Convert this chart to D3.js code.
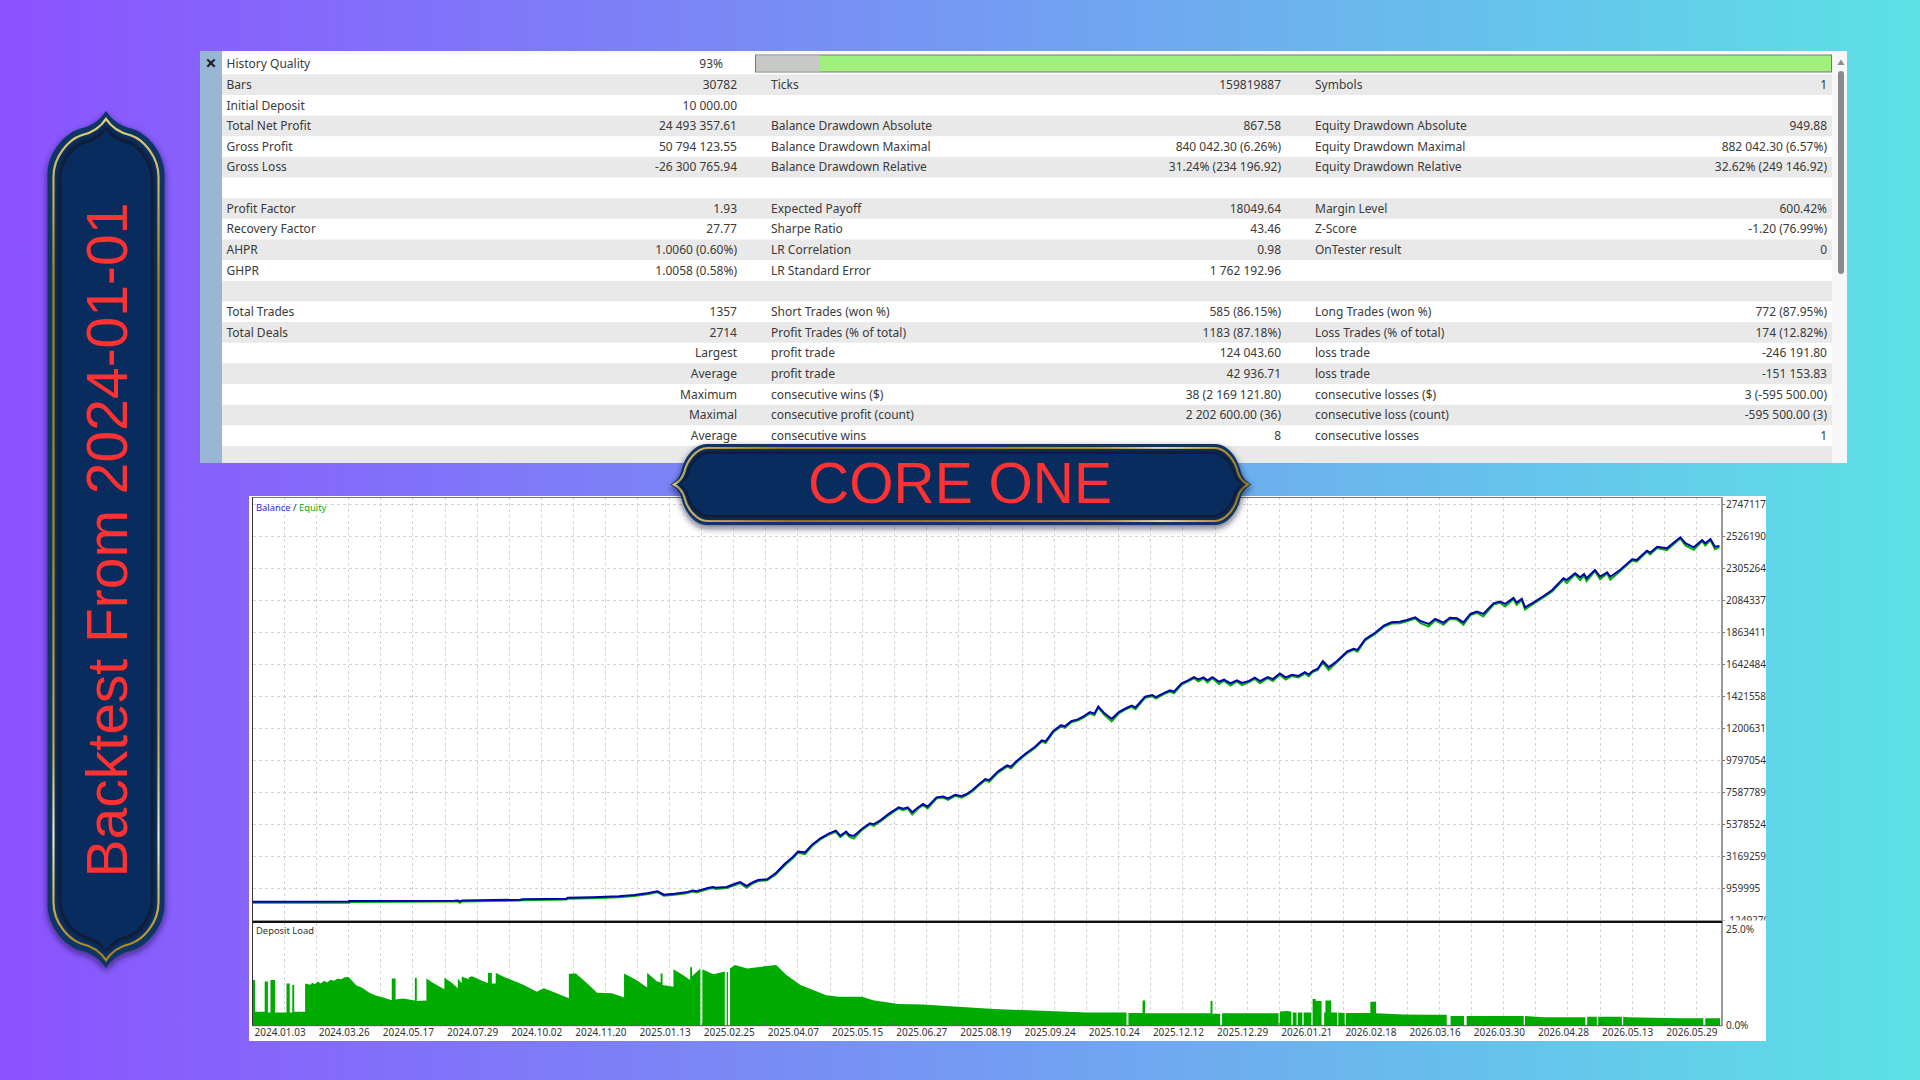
<!DOCTYPE html>
<html>
<head>
<meta charset="utf-8">
<title>Core One backtest</title>
<script src="https://cdn.jsdelivr.net/npm/d3@7"></script>
<style>
    html, body { margin: 0; padding: 0; overflow: hidden; }
    svg { display: block; }
</style>
</head>
<body>
<div id="wrapper"></div>
<script>
// report table, one array per column, "" = empty cell
const col1Labels = ["History Quality", "Bars", "Initial Deposit", "Total Net Profit", "Gross Profit", "Gross Loss", "",
    "Profit Factor", "Recovery Factor", "AHPR", "GHPR", "", "Total Trades", "Total Deals", "", "", "", "", ""]
const col1Values = ["93%", "30782", "10 000.00", "24 493 357.61", "50 794 123.55", "-26 300 765.94", "",
    "1.93", "27.77", "1.0060 (0.60%)", "1.0058 (0.58%)", "", "1357", "2714", "Largest", "Average", "Maximum", "Maximal", "Average"]
const col2Labels = ["", "Ticks", "", "Balance Drawdown Absolute", "Balance Drawdown Maximal", "Balance Drawdown Relative", "",
    "Expected Payoff", "Sharpe Ratio", "LR Correlation", "LR Standard Error", "", "Short Trades (won %)", "Profit Trades (% of total)",
    "profit trade", "profit trade", "consecutive wins ($)", "consecutive profit (count)", "consecutive wins"]
const col2Values = ["", "159819887", "", "867.58", "840 042.30 (6.26%)", "31.24% (234 196.92)", "",
    "18049.64", "43.46", "0.98", "1 762 192.96", "", "585 (86.15%)", "1183 (87.18%)", "124 043.60", "42 936.71",
    "38 (2 169 121.80)", "2 202 600.00 (36)", "8"]
const col3Labels = ["", "Symbols", "", "Equity Drawdown Absolute", "Equity Drawdown Maximal", "Equity Drawdown Relative", "",
    "Margin Level", "Z-Score", "OnTester result", "", "", "Long Trades (won %)", "Loss Trades (% of total)",
    "loss trade", "loss trade", "consecutive losses ($)", "consecutive loss (count)", "consecutive losses"]
const col3Values = ["", "1", "", "949.88", "882 042.30 (6.57%)", "32.62% (249 146.92)", "",
    "600.42%", "-1.20 (76.99%)", "0", "", "", "772 (87.95%)", "174 (12.82%)", "-246 191.80", "-151 153.83",
    "3 (-595 500.00)", "-595 500.00 (3)", "1"]
const historyQuality = 93

// axis of the chart. x positions are counted in date labels (the tester spaces them evenly)
const dateLabels = ["2024.01.03", "2024.03.26", "2024.05.17", "2024.07.29", "2024.10.02", "2024.11.20", "2025.01.13", "2025.02.25",
    "2025.04.07", "2025.05.15", "2025.06.27", "2025.08.19", "2025.09.24", "2025.10.24", "2025.12.12", "2025.12.29",
    "2026.01.21", "2026.02.18", "2026.03.16", "2026.03.30", "2026.04.28", "2026.05.13", "2026.05.29"]
const yTickLabels = ["2747117", "2526190", "2305264", "2084337", "1863411", "1642484", "1421558", "1200631",
    "9797054", "7587789", "5378524", "3169259", "959995", "-1249270"]
// millions
const yTickValues = [27.47117, 25.2619, 23.05264, 20.84337, 18.63411, 16.42484, 14.21558, 12.00631,
    9.797054, 7.587789, 5.378524, 3.169259, 0.959995, -1.24927]

// [position, millions]
const balancePoints = [[0,.01],[1.51,.02],[1.51,.06],[3.14,.08],[3.20,.09],[3.23,.03],[3.27,.10],[4.18,.15],[4.20,.18],[4.89,.22],
    [4.91,.28],[5.30,.32],[5.71,.39],[5.95,.48],[6.15,.60],[6.31,.73],[6.41,.50],[6.58,.56],[6.76,.66],[6.86,.78],
    [6.92,.74],[7.11,.98],[7.18,1.02],[7.22,.98],[7.39,1.03],[7.52,1.25],[7.60,1.37],[7.70,1.10],[7.80,1.36],[7.88,1.51],
    [8.02,1.56],[8.15,1.97],[8.30,2.65],[8.42,3.10],[8.50,3.47],[8.61,3.42],[8.72,3.95],[8.85,4.39],[8.98,4.72],[9.09,4.92],
    [9.16,4.57],[9.25,4.85],[9.30,4.62],[9.37,4.55],[9.50,5.05],[9.62,5.43],[9.68,5.36],[9.79,5.65],[9.92,6.10],[10.07,6.53],
    [10.14,6.44],[10.21,6.53],[10.28,6.19],[10.38,6.55],[10.45,6.76],[10.52,6.57],[10.66,7.22],[10.76,7.28],[10.84,7.14],[10.95,7.40],
    [11.05,7.30],[11.14,7.48],[11.22,7.72],[11.33,8.16],[11.42,8.48],[11.48,8.40],[11.62,9.01],[11.76,9.42],[11.82,9.34],[11.90,9.69],
    [12.05,10.25],[12.19,10.69],[12.30,11.15],[12.36,11.08],[12.48,11.80],[12.60,12.20],[12.66,12.12],[12.76,12.48],[12.86,12.60],[12.95,12.81],
    [13.05,13.10],[13.12,13.00],[13.18,13.49],[13.28,13.00],[13.39,12.64],[13.50,13.10],[13.62,13.40],[13.70,13.55],[13.76,13.42],[13.91,14.17],
    [14.02,14.28],[14.08,14.14],[14.20,14.42],[14.30,14.60],[14.36,14.52],[14.48,15.09],[14.58,15.30],[14.67,15.52],[14.74,15.36],[14.82,15.50],
    [14.88,15.30],[14.96,15.52],[15.06,15.20],[15.14,15.34],[15.24,15.09],[15.34,15.30],[15.42,15.12],[15.53,15.26],[15.62,15.48],[15.70,15.24],
    [15.82,15.52],[15.90,15.38],[16.01,15.77],[16.10,15.50],[16.20,15.68],[16.30,15.60],[16.40,15.86],[16.46,15.70],[16.52,15.94],[16.60,16.10],
    [16.68,16.62],[16.77,16.20],[16.88,16.55],[17.06,17.29],[17.16,17.48],[17.22,17.40],[17.34,18.14],[17.50,18.60],[17.63,19.07],[17.75,19.30],
    [17.88,19.34],[17.99,19.46],[18.12,19.65],[18.20,19.39],[18.33,19.19],[18.43,19.53],[18.56,19.28],[18.66,19.62],[18.77,19.58],[18.87,19.30],
    [18.98,19.88],[19.08,20.04],[19.18,19.88],[19.34,20.61],[19.44,20.73],[19.52,20.57],[19.65,20.98],[19.70,20.66],[19.78,20.93],[19.83,20.34],
    [19.96,20.66],[20.12,21.12],[20.25,21.52],[20.43,22.34],[20.48,22.22],[20.61,22.69],[20.69,22.41],[20.75,22.64],[20.79,22.34],[20.92,22.91],
    [21.00,22.45],[21.11,22.75],[21.16,22.45],[21.31,22.91],[21.50,23.65],[21.57,23.60],[21.73,24.25],[21.78,24.11],[21.89,24.52],[22.04,24.41],
    [22.25,25.17],[22.33,24.76],[22.46,24.48],[22.59,24.98],[22.64,24.76],[22.72,25.06],[22.79,24.52],[22.86,24.57]]

const equityPoints = [[0,-.06],[1.51,-.05],[1.51,-.01],[3.14,.02],[3.20,.03],[3.23,-.07],[3.27,.03],[4.18,.09],[4.20,.11],[4.89,.16],
    [4.91,.21],[5.30,.25],[5.71,.32],[5.95,.41],[6.15,.53],[6.31,.67],[6.41,.42],[6.58,.49],[6.76,.59],[6.86,.71],
    [6.92,.65],[7.11,.91],[7.18,.95],[7.22,.89],[7.39,.96],[7.52,1.17],[7.60,1.30],[7.70,.97],[7.80,1.29],[7.88,1.44],
    [8.02,1.49],[8.15,1.87],[8.30,2.55],[8.42,3.01],[8.50,3.39],[8.61,3.29],[8.72,3.86],[8.85,4.31],[8.98,4.64],[9.09,4.84],
    [9.16,4.47],[9.25,4.77],[9.30,4.51],[9.37,4.37],[9.50,4.97],[9.62,5.35],[9.68,5.25],[9.79,5.57],[9.92,6.01],[10.07,6.45],
    [10.14,6.33],[10.21,6.45],[10.28,6.04],[10.38,6.47],[10.45,6.68],[10.52,6.45],[10.66,7.14],[10.76,7.20],[10.84,7.04],[10.95,7.32],
    [11.05,7.19],[11.14,7.40],[11.22,7.64],[11.33,8.08],[11.42,8.40],[11.48,8.29],[11.62,8.93],[11.76,9.34],[11.82,9.23],[11.90,9.61],
    [12.05,10.17],[12.19,10.61],[12.30,11.07],[12.36,10.97],[12.48,11.72],[12.60,12.12],[12.66,12.01],[12.76,12.40],[12.86,12.52],[12.95,12.73],
    [13.05,13.02],[13.12,12.89],[13.18,13.41],[13.28,12.89],[13.39,12.47],[13.50,13.02],[13.62,13.32],[13.70,13.47],[13.76,13.31],[13.91,14.09],
    [14.02,14.20],[14.08,14.03],[14.20,14.34],[14.30,14.52],[14.36,14.41],[14.48,15.01],[14.58,15.22],[14.67,15.44],[14.74,15.23],[14.82,15.42],
    [14.88,15.15],[14.96,15.44],[15.06,15.05],[15.14,15.26],[15.24,14.94],[15.34,15.22],[15.42,14.97],[15.53,15.18],[15.62,15.40],[15.70,15.09],
    [15.82,15.44],[15.90,15.25],[16.01,15.69],[16.10,15.35],[16.20,15.60],[16.30,15.49],[16.40,15.78],[16.46,15.57],[16.52,15.86],[16.60,16.02],
    [16.68,16.54],[16.77,16.01],[16.88,16.47],[17.06,17.21],[17.16,17.40],[17.22,17.27],[17.34,18.06],[17.50,18.52],[17.63,18.99],[17.75,19.22],
    [17.88,19.23],[17.99,19.38],[18.12,19.57],[18.20,19.24],[18.33,19.01],[18.43,19.45],[18.56,19.13],[18.66,19.54],[18.77,19.50],[18.87,19.13],
    [18.98,19.80],[19.08,19.96],[19.18,19.71],[19.34,20.53],[19.44,20.65],[19.52,20.39],[19.65,20.90],[19.70,20.51],[19.78,20.85],[19.83,20.19],
    [19.96,20.58],[20.12,21.04],[20.25,21.41],[20.43,22.26],[20.48,22.01],[20.61,22.61],[20.69,22.21],[20.75,22.56],[20.79,22.14],[20.92,22.83],
    [21.00,22.27],[21.11,22.67],[21.16,22.24],[21.31,22.83],[21.50,23.57],[21.57,23.49],[21.73,24.17],[21.78,23.99],[21.89,24.44],[22.04,24.29],
    [22.25,25.09],[22.33,24.61],[22.46,24.31],[22.59,24.90],[22.64,24.61],[22.72,24.98],[22.79,24.35],[22.86,24.49]]

// deposit load [position, %], repeated positions are the vertical jumps and the thin white gaps
const loadSteps = [[0,0],[0,11.8],[.04,11.8],[.04,3.6],[.19,3.6],[.19,11.4],[.24,11.4],[.24,3.4],[.28,3.4],[.28,11.8],
    [.35,11.8],[.35,3.4],[.53,3.4],[.53,10.9],[.58,10.9],[.58,3.4],[.62,3.4],[.62,10.5],[.65,10.5],[.65,3.6],[.82,3.6],[.82,10.9],
    [.90,10.6],[.93,11.1],[.97,10.7],[1.02,11.4],[1.06,10.9],[1.12,11.6],[1.16,11.2],[1.22,11.9],[1.27,11.6],[1.33,12.2],[1.38,12.0],[1.44,12.5],[1.50,12.6],
    [1.56,11.4],[1.62,10.4],[1.70,9.9],[1.76,9.2],[1.82,8.5],[1.92,7.8],[2.05,7.2],[2.17,6.6],[2.17,12.2],[2.23,12.2],[2.23,6.8],
    [2.35,7.0],[2.53,6.5],[2.53,12.4],[2.56,12.4],[2.56,6.4],[2.71,6.5],[2.71,12.2],[2.79,11.3],[2.87,10.5],[2.99,9.4],[2.99,12.4],
    [3.10,11.2],[3.20,9.7],[3.20,12.2],[3.26,11.0],[3.26,12.7],[3.37,12.0],[3.37,12.5],[3.42,12.8],[3.55,11.8],[3.67,11.0],[3.67,13.7],
    [3.73,13.6],[3.73,10.9],[3.79,10.9],[3.79,13.7],[3.92,12.6],[4.04,11.8],[4.22,10.6],[4.43,8.8],[4.54,9.7],[4.75,8.3],[4.93,7.1],[4.93,13.4],
    [5.04,13.5],[5.20,11.2],[5.37,8.5],[5.60,8.4],[5.79,7.3],[5.79,13.5],[5.98,11.8],[6.15,9.9],[6.15,13.7],[6.30,11.5],[6.36,11.2],[6.36,13.5],
    [6.39,13.5],[6.39,10.5],[6.56,10.1],[6.56,14.6],[6.70,13.2],[6.82,11.8],[6.82,15.1],[6.85,15.1],[6.85,12.8],[6.98,14.8],[6.98,0],[7.01,0],
    [7.01,14.6],[7.18,13.3],[7.36,14.0],[7.36,0],[7.39,0],[7.39,13.9],[7.41,13.9],[7.41,0],[7.44,0],[7.44,14.8],[7.52,15.7],[7.71,14.8],
    [7.90,15.2],[8.16,15.7],[8.32,13.1],[8.54,10.5],[8.61,10.1],[8.94,7.9],[9.14,7.5],[9.50,7.5],[9.67,6.6],[10.06,5.6],[10.45,5.5],
    [11.00,4.9],[11.56,4.3],[12.40,3.8],[13.01,3.4],[13.62,3.4],[13.62,0],[13.65,0],[13.65,3.3],[13.87,3.3],[13.87,6.5],[13.91,6.5],[13.91,3.2],
    [14.93,3.2],[14.93,6.4],[14.96,6.4],[14.96,3.1],[15.08,3.1],[15.08,0],[15.11,0],[15.11,3.2],[15.99,3.2],[15.99,0],[16.01,0],[16.01,3.7],
    [16.13,3.8],[16.19,3.6],[16.19,0],[16.21,0],[16.21,3.4],[16.27,3.4],[16.27,0],[16.29,0],[16.29,3.4],[16.36,3.4],[16.36,0],[16.38,0],
    [16.38,3.4],[16.50,3.4],[16.50,0],[16.52,0],[16.52,6.9],[16.57,6.9],[16.57,6.4],[16.66,6.4],[16.66,0],[16.70,0],[16.70,3.4],[16.72,3.4],
    [16.72,6.5],[16.81,6.5],[16.81,3.4],[16.90,3.4],[16.90,0],[16.92,0],[16.92,3.4],[17.02,3.3],[17.02,0],[17.04,0],[17.04,3.3],[17.42,3.3],
    [17.42,6.2],[17.51,6.2],[17.51,3.2],[17.94,2.9],[18.41,2.8],[18.61,2.8],[18.61,0],[18.67,0],[18.67,2.5],[18.88,2.5],[18.88,0],[18.92,0],
    [18.92,2.5],[19.81,2.5],[19.81,0],[19.83,0],[19.83,2.5],[20.12,2.2],[20.77,2.2],[20.77,0],[20.80,0],[20.80,2.3],[20.95,2.3],[20.95,0],
    [20.97,0],[20.97,2.3],[21.34,2.3],[21.34,0],[21.36,0],[21.36,2.3],[21.42,2.2],[22.25,1.9],[22.61,1.9],[22.61,0],[22.64,0],[22.64,1.9],[22.87,1.9],[22.87,0]]

function drawChart() {
    const width = 1920
    const height = 1080
    const sans = "'Noto Sans', sans-serif"
    const tableColor = "#3a3a3a"

    const wrapper = d3.select("#wrapper")
        .append("svg")
        .attr("width", width)
        .attr("height", height)
    const defs = wrapper.append("defs")

    const bg = defs.append("linearGradient").attr("id", "bg")
    bg.append("stop").attr("offset", "0%").attr("stop-color", "#8c52ff")
    bg.append("stop").attr("offset", "100%").attr("stop-color", "#5ce1e6")
    wrapper.append("rect")
        .attr("width", width)
        .attr("height", height)
        .attr("fill", "url(#bg)")

    //report panel
    const table = {left: 200, top: 51, right: 1847, bottom: 463, stripe: 222, rowTop: 53.7, rowH: 20.65}
    const panel = wrapper.append("g").attr("font-family", sans).attr("font-size", "12px").attr("fill", tableColor)
    panel.append("rect")
        .attr("x", table.left)
        .attr("y", table.top)
        .attr("width", table.right - table.left)
        .attr("height", table.bottom - table.top)
        .attr("fill", "#f7f7f7")
    panel.selectAll(".row")
        .data(d3.range(20))
        .enter()
        .append("rect")
        .attr("x", table.stripe)
        .attr("y", d => table.rowTop + d * table.rowH)
        .attr("width", 1832 - table.stripe)
        .attr("height", d => d === 19 ? table.bottom - (table.rowTop + d * table.rowH) : table.rowH)
        .attr("fill", d => d % 2 ? "#e9e9e9" : "#ffffff")
    panel.append("rect")
        .attr("x", table.left)
        .attr("y", table.top)
        .attr("width", table.stripe - table.left)
        .attr("height", table.bottom - table.top)
        .attr("fill", "#9ab6d5")
    panel.append("text")
        .attr("x", 211)
        .attr("y", 69.5)
        .attr("text-anchor", "middle")
        .attr("font-size", "20px")
        .attr("font-weight", 700)
        .attr("fill", "#222")
        .text("×")

    const columns = [
        {values: col1Labels, x: 226.5, anchor: "start"},
        {values: col1Values, x: 737, anchor: "end"},
        {values: col2Labels, x: 771, anchor: "start"},
        {values: col2Values, x: 1281, anchor: "end"},
        {values: col3Labels, x: 1315, anchor: "start"},
        {values: col3Values, x: 1827, anchor: "end"},
    ]
    columns.forEach(col => {
        panel.append("g")
            .attr("text-anchor", col.anchor)
            .selectAll("text")
            .data(col.values)
            .enter()
            .append("text")
            .attr("x", (d, i) => (i === 0 && col.anchor === "end") ? col.x - 14 : col.x)
            .attr("y", (d, i) => 64 + i * table.rowH)
            .attr("dy", ".35em")
            .text(d => d)
    })

    //history quality bar
    const qualityX = d3.scaleLinear().domain([100, 0]).range([755.5, 1831.5])
    panel.append("rect")
        .attr("x", qualityX(100))
        .attr("y", 55)
        .attr("width", qualityX(0) - qualityX(100))
        .attr("height", 17)
        .attr("fill", "#9ff07c")
        .attr("stroke", "#777")
    panel.append("rect")
        .attr("x", qualityX(100) + .5)
        .attr("y", 55.5)
        .attr("width", (qualityX(0) - qualityX(100)) * (100 - historyQuality) / 100 * .85)
        .attr("height", 16)
        .attr("fill", "#c8c8c8")

    //scrollbar
    panel.append("path")
        .attr("d", "M1837.5 65 L1841 59.5 L1844.5 65 Z")
        .attr("fill", "#8a8a8a")
    panel.append("rect")
        .attr("x", 1838)
        .attr("y", 71)
        .attr("width", 6)
        .attr("height", 203)
        .attr("rx", 3)
        .attr("fill", "#8a8a8a")

    //chart
    const chart = {left: 249, top: 496, right: 1766, bottom: 1041, plotLeft: 252.5, plotRight: 1722, plotTop: 497, paneBottom: 920, loadTop: 923, loadBottom: 1025.7}
    const tester = wrapper.append("g").attr("font-family", sans).attr("font-size", "10px")
    tester.append("rect")
        .attr("x", chart.left)
        .attr("y", chart.top)
        .attr("width", chart.right - chart.left)
        .attr("height", chart.bottom - chart.top)
        .attr("fill", "#fff")

    const xScaler = d3.scaleLinear().domain([0, 22.9]).range([chart.plotLeft, chart.plotRight])
    const yScaler = d3.scaleLinear().domain([-1.24927, 27.47117]).range([920, 504])
    const loadScaler = d3.scaleLinear().domain([0, 25]).range([chart.loadBottom, 929])

    const grid = tester.append("g")
        .attr("stroke", "#d4d4d4")
        .attr("stroke-dasharray", "3 3")
        .attr("shape-rendering", "crispEdges")
    grid.selectAll(".v")
        .data(d3.range(0.5, 22.9, 0.5))
        .enter()
        .append("line")
        .attr("x1", d => xScaler(d))
        .attr("x2", d => xScaler(d))
        .attr("y1", chart.plotTop)
        .attr("y2", chart.loadBottom)
    grid.selectAll(".h")
        .data(yTickValues.slice(0, -1))
        .enter()
        .append("line")
        .attr("x1", chart.plotLeft)
        .attr("x2", chart.plotRight)
        .attr("y1", d => yScaler(d))
        .attr("y2", d => yScaler(d))

    const lineGen = d3.line()
        .x(d => xScaler(d[0]))
        .y(d => yScaler(d[1]))
    tester.append("path")
        .attr("d", lineGen(equityPoints))
        .attr("fill", "none")
        .attr("stroke", "#00b000")
        .attr("stroke-width", 2)
    tester.append("path")
        .attr("d", lineGen(balancePoints))
        .attr("fill", "none")
        .attr("stroke", "#0000b0")
        .attr("stroke-width", 2)

    const areaGen = d3.area()
        .x(d => xScaler(d[0]))
        .y0(loadScaler(0))
        .y1(d => loadScaler(d[1]))
    tester.append("path")
        .attr("d", areaGen(loadSteps))
        .attr("fill", "#00ab00")

    //frame of the panes
    const frame = tester.append("g").attr("shape-rendering", "crispEdges")
    frame.append("line").attr("x1", chart.plotLeft).attr("x2", chart.plotRight).attr("y1", chart.plotTop).attr("y2", chart.plotTop).attr("stroke", "#777")
    frame.append("line").attr("x1", chart.plotLeft).attr("x2", chart.plotLeft).attr("y1", chart.plotTop).attr("y2", chart.loadBottom).attr("stroke", "#333")
    frame.append("line").attr("x1", chart.plotRight).attr("x2", chart.plotRight).attr("y1", chart.plotTop).attr("y2", chart.loadBottom).attr("stroke", "#999").attr("stroke-width", 2)
    frame.append("line").attr("x1", chart.plotLeft).attr("x2", chart.plotRight).attr("y1", 920.5).attr("y2", 920.5).attr("stroke", "#999").attr("stroke-width", 1)
    frame.append("line").attr("x1", chart.plotLeft).attr("x2", chart.plotRight).attr("y1", 922).attr("y2", 922).attr("stroke", "#111").attr("stroke-width", 1.5)

    //axes, labels of the price axis get cut by the chart edge like in the tester
    defs.append("clipPath").attr("id", "priceClip")
        .append("rect")
        .attr("x", chart.plotRight)
        .attr("y", chart.top)
        .attr("width", chart.right - chart.plotRight)
        .attr("height", 424.5)

    const yAxisGen = d3.axisRight(yScaler)
        .tickValues(yTickValues)
        .tickFormat((d, i) => yTickLabels[i])
        .tickSize(3)
        .tickPadding(1)
    const yAxis = tester.append("g")
        .attr("clip-path", "url(#priceClip)")
        .append("g")
        .attr("transform", `translate(${chart.plotRight},0)`)
        .call(yAxisGen)
    yAxis.select(".domain").remove()
    yAxis.selectAll("line").attr("stroke", "#777")
    yAxis.selectAll("text")
        .attr("font-family", sans)
        .attr("font-size", "10px")
        .attr("fill", "#333")

    const loadAxisGen = d3.axisRight(loadScaler)
        .tickValues([0, 25])
        .tickFormat(d => d.toFixed(1) + "%")
        .tickSize(0)
        .tickPadding(4)
    const loadAxis = tester.append("g")
        .attr("transform", `translate(${chart.plotRight},0)`)
        .call(loadAxisGen)
    loadAxis.select(".domain").remove()
    loadAxis.selectAll("text")
        .attr("font-family", sans)
        .attr("font-size", "10px")
        .attr("fill", "#333")

    const xAxisGen = d3.axisBottom(xScaler)
        .tickValues(d3.range(dateLabels.length))
        .tickFormat(i => dateLabels[i])
        .tickSize(3)
    const xAxis = tester.append("g")
        .attr("transform", `translate(0,${chart.loadBottom})`)
        .call(xAxisGen)
    xAxis.select(".domain")
        .attr("stroke", "#555")
        .attr("d", `M${chart.plotLeft},0H${chart.plotRight}`)
    xAxis.selectAll("line").attr("stroke", "#555").attr("y2", -3)
    xAxis.selectAll("text")
        .attr("font-family", sans)
        .attr("font-size", "10px")
        .attr("fill", "#333")
        .attr("text-anchor", "start")
        .attr("x", 1.5)
        .attr("y", 3.5)

    const legend = tester.append("text").attr("x", 256).attr("y", 510.5).attr("font-size", "9.4px")
    legend.append("tspan").attr("fill", "#2a2ad0").text("Balance")
    legend.append("tspan").attr("fill", "#333").text(" / ")
    legend.append("tspan").attr("fill", "#00b000").text("Equity")
    tester.append("text")
        .attr("x", 256)
        .attr("y", 934)
        .attr("font-size", "9.4px")
        .attr("fill", "#333")
        .text("Deposit Load")

    //the two gold framed plates
    const shadow = defs.append("filter").attr("id", "plateShadow")
        .attr("x", "-10%").attr("y", "-10%").attr("width", "120%").attr("height", "125%")
    shadow.append("feDropShadow")
        .attr("dx", 0).attr("dy", 3).attr("stdDeviation", 3.5)
        .attr("flood-color", "#101030").attr("flood-opacity", .65)
    const soft = defs.append("filter").attr("id", "plateSoft")
    soft.append("feGaussianBlur").attr("stdDeviation", 2.5)

    const goldH = defs.append("linearGradient").attr("id", "goldH")
    const goldV = defs.append("linearGradient").attr("id", "goldV").attr("x1", 0).attr("x2", 0).attr("y1", 0).attr("y2", 1)
    const goldStops = [[0, "#e8d27a"], [.2, "#a98414"], [.5, "#b08a1a"], [.75, "#c9a94a"], [.85, "#f4ecc8"], [.95, "#c9a33a"], [1, "#a98414"]]
    ;[goldH, goldV].forEach(g => goldStops.forEach(s => g.append("stop").attr("offset", s[0]).attr("stop-color", s[1])))

    function platePath(p, inset, toXY) {
        const len = p.len, t = inset * p.tipK
        const b = p.b - inset, mu = p.mu + t * .8, mv = Math.max(p.mv - inset * .4, 4), su = p.su + inset * .3
        const path = d3.path()
        const curve = (c1, c2, e) => path.bezierCurveTo(...toXY(c1[0], c1[1]), ...toXY(c2[0], c2[1]), ...toXY(e[0], e[1]))
        path.moveTo(...toXY(t, 0))
        ;[1, -1].forEach(side => {
            // going one way along the upper edge, then back along the lower one
            const U = side === 1 ? (u => u) : (u => len - u)
            const V = v => side * v
            curve([U(t + (mu - t) * .65), V(mv * .28)], [U(t + (mu - t) * .88), V(mv * .65)], [U(mu), V(mv)])
            curve([U(mu + (su - mu) * .1), V(mv + (b - mv) * .45)], [U(su - (su - mu) * .5), V(b)], [U(su), V(b)])
            path.lineTo(...toXY(U(len - su), V(b)))
            curve([U(len - su + (su - mu) * .5), V(b)], [U(len - mu - (su - mu) * .1), V(mv + (b - mv) * .45)], [U(len - mu), V(mv)])
            curve([U(len - t - (mu - t) * .88), V(mv * .65)], [U(len - t - (mu - t) * .65), V(mv * .28)], [U(len - t), 0])
        })
        path.closePath()
        return path.toString()
    }

    function drawPlate(p, toXY, gold) {
        const plate = wrapper.append("g")
        plate.append("path")
            .attr("d", platePath(p, 0, toXY))
            .attr("fill", "#0b3566")
            .attr("filter", "url(#plateShadow)")
        plate.append("path")
            .attr("d", platePath(p, p.goldInset, toXY))
            .attr("fill", "none")
            .attr("stroke", `url(#${gold})`)
            .attr("stroke-width", 2.2)
        plate.append("path")
            .attr("d", platePath(p, p.innerInset, toXY))
            .attr("fill", "#08122e")
            .attr("filter", "url(#plateSoft)")
        plate.append("path")
            .attr("d", platePath(p, p.innerInset + 3, toXY))
            .attr("fill", "#082c5e")
    }

    drawPlate({len: 857, b: 58.5, mu: 18, mv: 27, su: 64, tipK: 1.3, goldInset: 6, innerInset: 11}, (u, v) => [106 + v, 111 + u], "goldV")
    drawPlate({len: 581, b: 40.5, mu: 11, mv: 14, su: 36, tipK: .9, goldInset: 4, innerInset: 7}, (u, v) => [670.5 + u, 484.5 + v], "goldH")

    wrapper.append("text")
        .attr("x", 960)
        .attr("y", 502.5)
        .attr("text-anchor", "middle")
        .attr("font-family", "'Liberation Sans', sans-serif")
        .attr("font-size", "57px")
        .attr("fill", "#ff3131")
        .text("CORE ONE")
    wrapper.append("text")
        .attr("transform", "translate(127,540) rotate(-90)")
        .attr("text-anchor", "middle")
        .attr("font-family", "'Liberation Sans', sans-serif")
        .attr("font-size", "57px")
        .attr("fill", "#ff3131")
        .text("Backtest From 2024-01-01")
}

drawChart()
</script>
</body>
</html>
